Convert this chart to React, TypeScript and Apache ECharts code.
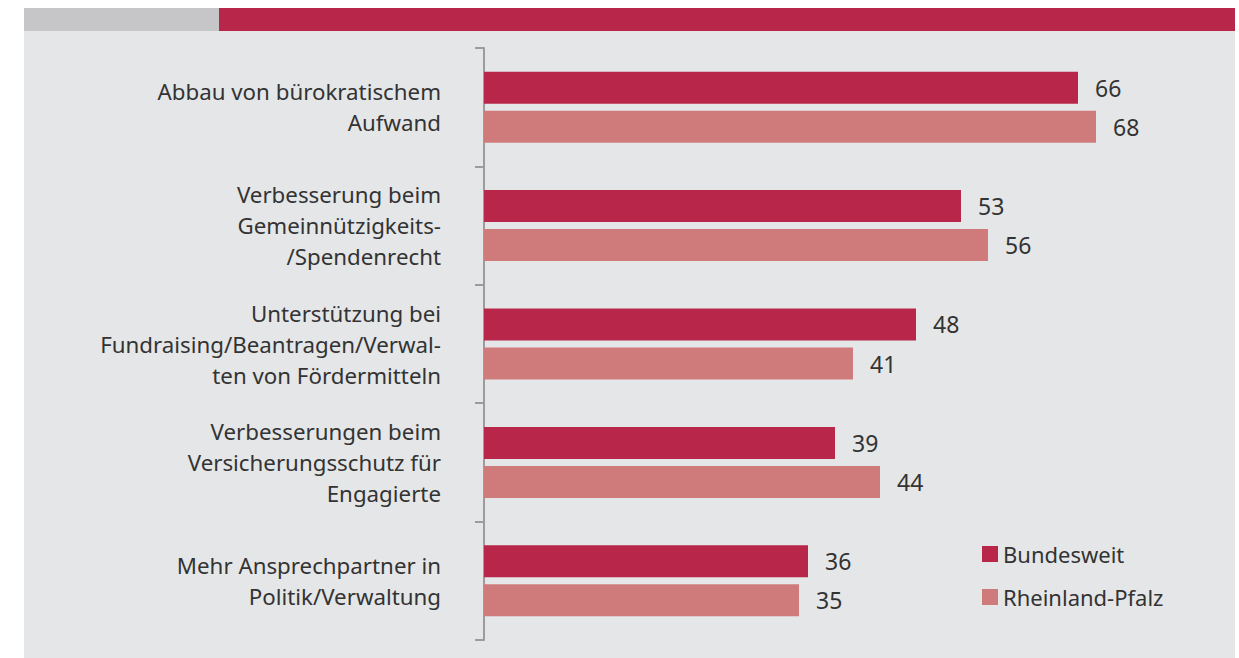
import React, { useEffect, useRef } from "react";
import * as echarts from "echarts";

const categories = [
  "Abbau von bürokratischem\nAufwand",
  "Verbesserung beim\nGemeinnützigkeits-\n/Spendenrecht",
  "Unterstützung bei\nFundraising/Beantragen/Verwal-\nten von Fördermitteln",
  "Verbesserungen beim\nVersicherungsschutz für\nEngagierte",
  "Mehr Ansprechpartner in\nPolitik/Verwaltung",
];
const bundesweit = [66, 53, 48, 39, 36];
const rheinlandPfalz = [68, 56, 41, 44, 35];
const seriesNames = ["Bundesweit", "Rheinland-Pfalz"];

const FONT = "Noto Sans";

export default function App() {
  const ref = useRef<HTMLDivElement>(null);
  useEffect(() => {
    const chart = echarts.init(ref.current!, null, { renderer: "svg" });
    chart.setOption({
      animation: false,
      textStyle: { fontFamily: FONT },
      graphic: [
        { type: "rect", z: -10, shape: { x: 24, y: 8, width: 1211, height: 650 }, style: { fill: "#e5e6e8" } },
        { type: "rect", z: -9, shape: { x: 24, y: 8, width: 195, height: 23 }, style: { fill: "#c6c6c8" } },
        { type: "rect", z: -9, shape: { x: 219, y: 8, width: 1016, height: 23 }, style: { fill: "#b8264a" } },
      ],
      grid: { left: 484, top: 48, width: 711, height: 592 },
      xAxis: { type: "value", min: 0, max: 79, show: false },
      yAxis: {
        type: "category",
        inverse: true,
        data: categories,
        axisLine: { show: true, lineStyle: { color: "#9c9c9c", width: 2 } },
        axisTick: { show: true, length: 9, alignWithLabel: false, lineStyle: { color: "#9c9c9c", width: 2 } },
        axisLabel: {
          margin: 43,
          fontSize: 22.3,
          lineHeight: 31,
          color: "#333333",
          fontFamily: FONT,
          align: "right",
        },
      },
      legend: {
        orient: "vertical",
        left: 977,
        top: 537,
        icon: "rect",
        itemWidth: 16,
        itemHeight: 16,
        itemGap: 19,
        textStyle: { fontSize: 22, lineHeight: 24, color: "#333333", fontFamily: FONT },
        data: seriesNames,
      },
      series: [
        {
          name: seriesNames[0],
          type: "bar",
          data: bundesweit,
          barWidth: 32,
          barGap: "22%",
          itemStyle: { color: "#b8264a" },
          label: { show: true, position: "right", distance: 17, fontSize: 23, color: "#333333", fontFamily: FONT },
        },
        {
          name: seriesNames[1],
          type: "bar",
          data: rheinlandPfalz,
          barWidth: 32,
          itemStyle: { color: "#cf7b7c" },
          label: { show: true, position: "right", distance: 17, fontSize: 23, color: "#333333", fontFamily: FONT },
        },
      ],
    });
    return () => chart.dispose();
  }, []);
  return (
    <div
      ref={ref}
      style={{ position: "absolute", left: 0, top: 0, width: 1239, height: 658, background: "#ffffff" }}
    />
  );
}
